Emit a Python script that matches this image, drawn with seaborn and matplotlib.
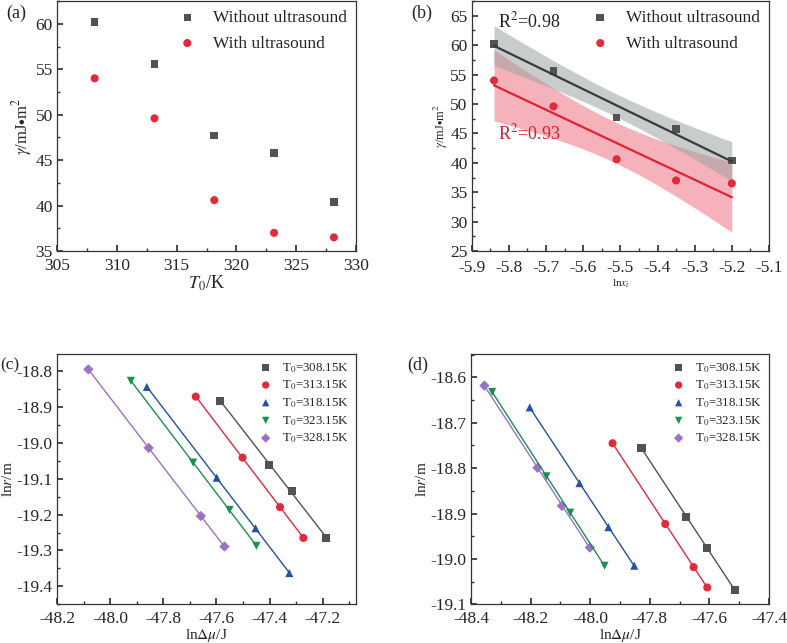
import numpy as np
import pandas as pd
import seaborn as sns
from matplotlib import pyplot as plt
from matplotlib.ticker import MultipleLocator, AutoMinorLocator

# Surface energy vs temperature / ln x_i
T0 = [308.15, 313.15, 318.15, 323.15, 328.15]
lnx = [-5.84, -5.68, -5.51, -5.35, -5.20]
gamma_without = [60.2, 55.6, 47.7, 45.8, 40.4]
gamma_with = [54.0, 49.6, 40.6, 37.0, 36.5]

# ln r vs ln dmu, without ultrasound (c)
temps = ['T$_0$=308.15K', 'T$_0$=313.15K', 'T$_0$=318.15K', 'T$_0$=323.15K', 'T$_0$=328.15K']
c_x = [[-47.586, -47.401, -47.317, -47.187],
       [-47.678, -47.502, -47.361, -47.273],
       [-47.862, -47.599, -47.453, -47.326],
       [-47.922, -47.688, -47.551, -47.450],
       [-48.082, -47.855, -47.659, -47.570]]
c_y = [[-18.883, -19.061, -19.134, -19.266],
       [-18.871, -19.041, -19.179, -19.265],
       [-18.844, -19.097, -19.238, -19.363],
       [-18.827, -19.055, -19.187, -19.287],
       [-18.795, -19.014, -19.204, -19.289]]
# with ultrasound (d)
d_x = [[-47.828, -47.677, -47.609, -47.515],
       [-47.925, -47.748, -47.653, -47.607],
       [-48.203, -48.036, -47.939, -47.852],
       [-48.329, -48.147, -48.067, -47.952],
       [-48.355, -48.177, -48.095, -48.001]]
d_y = [[-18.756, -18.907, -18.975, -19.068],
       [-18.745, -18.923, -19.018, -19.063],
       [-18.666, -18.833, -18.930, -19.015],
       [-18.632, -18.818, -18.898, -19.015],
       [-18.618, -18.799, -18.883, -18.975]]

colors = ['#525252', '#e12a3a', '#2352a3', '#1b8f4f', '#9b72c6']
markers = ['s', 'o', '^', 'v', 'D']

sns.set_theme(style='ticks')
plt.rcParams['font.family'] = ['Liberation Serif', 'DejaVu Serif']
plt.rcParams['mathtext.fontset'] = 'stix'
plt.rcParams['axes.unicode_minus'] = False

fig = plt.figure(figsize=(7.87, 6.43), dpi=100)
ax_a = fig.add_axes([0.0724, 0.6096, 0.380, 0.3887])
ax_b = fig.add_axes([0.5994, 0.6096, 0.3777, 0.3887])
ax_c = fig.add_axes([0.0724, 0.0602, 0.380, 0.3888])
ax_d = fig.add_axes([0.5985, 0.0602, 0.3786, 0.3888])


def style(ax, xstep, ystep, xpad=5):
    ax.xaxis.set_major_locator(MultipleLocator(xstep))
    ax.yaxis.set_major_locator(MultipleLocator(ystep))
    ax.xaxis.set_minor_locator(AutoMinorLocator(2))
    ax.yaxis.set_minor_locator(AutoMinorLocator(2))
    ax.tick_params(which='both', direction='in', labelsize=12.5, color='#333333')
    ax.tick_params(axis='x', pad=xpad)
    ax.tick_params(axis='y', pad=3)
    ax.tick_params(which='major', length=4)
    ax.tick_params(which='minor', length=2)
    for sp in ax.spines.values():
        sp.set_color('#333333')
        sp.set_linewidth(0.9)


# (a)
sns.scatterplot(x=T0, y=gamma_without, ax=ax_a, marker='s', color=colors[0], s=30,
                edgecolor='none', label='Without ultrasound')
sns.scatterplot(x=T0, y=gamma_with, ax=ax_a, marker='o', color=colors[1], s=34,
                edgecolor='none', label='With ultrasound')
ax_a.set_xlim(305, 330)
ax_a.set_ylim(35, 62.5)
style(ax_a, 5, 5)
ax_a.set_xlabel('$T_0$/K', fontsize=13, labelpad=0)
ax_a.set_ylabel(r'$\gamma$/mJ$\bullet$m$^2$', fontsize=12, labelpad=1)
ax_a.legend(loc='upper right', frameon=False, fontsize=12.5, handlelength=1.0,
            handletextpad=1.0, borderaxespad=0.1, labelspacing=0.55)
fig.text(0.008, 0.972, '(a)', fontsize=13)

# (b) with linear fit and 95% confidence band
def band(ax, x, y, line_c, fill_c, alpha):
    x = np.asarray(x)
    y = np.asarray(y)
    k, b = np.polyfit(x, y, 1)
    xs = np.linspace(x.min(), x.max(), 100)
    fit = k * xs + b
    res = y - (k * x + b)
    s = np.sqrt((res ** 2).sum() / (len(x) - 2))
    sxx = ((x - x.mean()) ** 2).sum()
    half = 3.182 * s * np.sqrt(1 / len(x) + (xs - x.mean()) ** 2 / sxx)
    ax.fill_between(xs, fit - half, fit + half, color=fill_c, alpha=alpha, lw=0)
    sns.lineplot(x=xs, y=fit, ax=ax, color=line_c, lw=1.6)

band(ax_b, lnx, gamma_with, '#e02232', '#f0808c', 0.6)
band(ax_b, lnx, gamma_without, '#3a3a3a', '#9ea3a3', 0.55)
sns.scatterplot(x=lnx, y=gamma_without, ax=ax_b, marker='s', color=colors[0], s=30,
                edgecolor='none', label='Without ultrasound')
sns.scatterplot(x=lnx, y=gamma_with, ax=ax_b, marker='o', color=colors[1], s=34,
                edgecolor='none', label='With ultrasound')
ax_b.set_xlim(-5.9, -5.1)
ax_b.set_ylim(25, 67.5)
style(ax_b, 0.1, 5, xpad=6.5)
ax_b.set_xlabel('ln$x_i$', fontsize=8, labelpad=1)
ax_b.set_ylabel(r'$\gamma$/mJ$\bullet$m$^2$', fontsize=9, labelpad=0)
ax_b.legend(loc='upper right', frameon=False, fontsize=12.5, handlelength=1.0,
            handletextpad=1.0, borderaxespad=0.1, labelspacing=0.55)
ax_b.text(-5.83, 63.0, 'R$^2$=0.98', fontsize=13, color='#222222')
ax_b.text(-5.83, 44.0, 'R$^2$=0.93', fontsize=13, color='#d0202e')
fig.text(0.523, 0.972, '(b)', fontsize=13)


def growth(ax, xs, ys, xlim, ylim, ystep):
    for i in range(5):
        sns.regplot(x=np.array(xs[i]), y=np.array(ys[i]), ax=ax, scatter=False, ci=None,
                    color=colors[i], line_kws={'lw': 1.0})
        sns.scatterplot(x=xs[i], y=ys[i], ax=ax, marker=markers[i], color=colors[i],
                        s=34 if markers[i] != 'D' else 28, edgecolor='none', label=temps[i])
    ax.set_xlim(*xlim)
    ax.set_ylim(*ylim)
    style(ax, 0.2, ystep)
    ax.set_xlabel(r'ln$\mathit{\Delta\mu}$/J', fontsize=11, labelpad=0)
    ax.set_ylabel('ln$r$/m', fontsize=11, labelpad=1)
    ax.legend(loc='upper right', frameon=False, fontsize=9.3, handlelength=1.0,
              handletextpad=0.8, borderaxespad=0.1, labelspacing=0.3, markerscale=0.9)


growth(ax_c, c_x, c_y, (-48.2, -47.075), (-19.45, -18.753), 0.1)
fig.text(0.0, 0.426, '(c)', fontsize=12.5)
growth(ax_d, d_x, d_y, (-48.4, -47.4), (-19.1, -18.549), 0.1)
fig.text(0.517, 0.424, '(d)', fontsize=13)

fig.savefig('out.png', dpi=100)
